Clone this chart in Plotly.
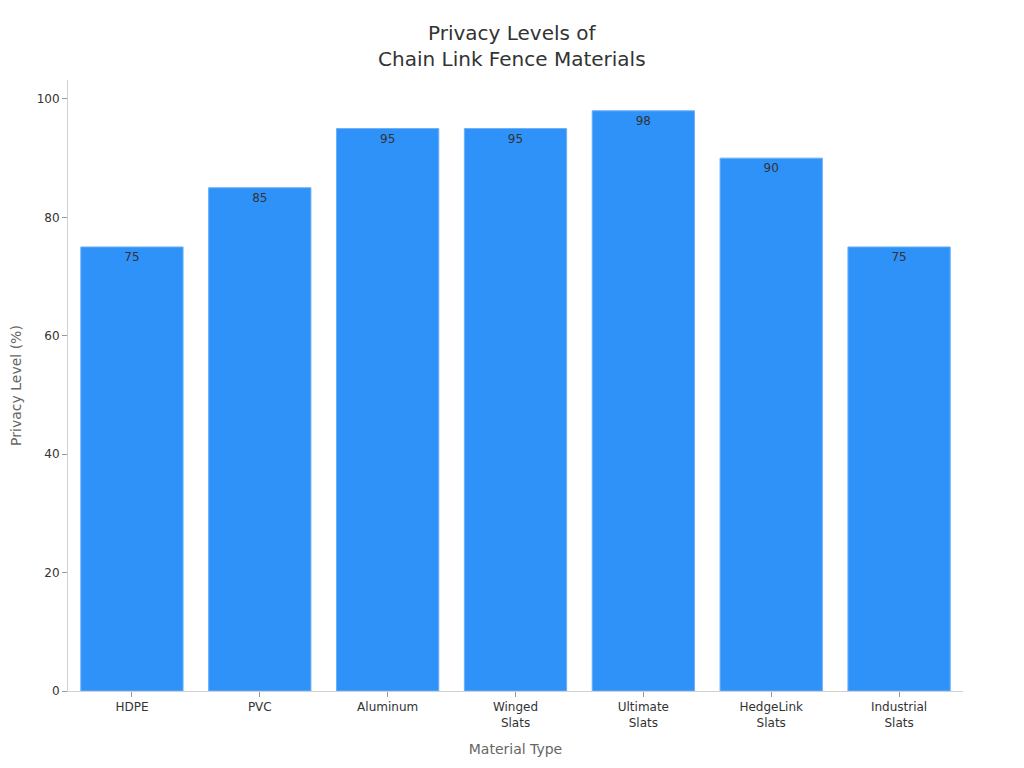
import plotly.graph_objects as go

categories = ["HDPE", "PVC", "Aluminum", "Winged<br>Slats", "Ultimate<br>Slats", "HedgeLink<br>Slats", "Industrial<br>Slats"]
privacy = [75, 85, 95, 95, 98, 90, 75]
y_ticks = [0, 20, 40, 60, 80, 100]

fig = go.Figure(go.Bar(
    x=categories, y=privacy,
    text=[str(v) for v in privacy], textposition="inside", insidetextanchor="end",
    textfont=dict(color="#333333", size=12, family="DejaVu Sans"),
    marker=dict(color="#2f92f8", line=dict(color="#6ab0fa", width=1)),
))

fig.update_layout(
    width=1024, height=768,
    margin=dict(l=60, r=69, t=72, b=85, autoexpand=False),
    paper_bgcolor="white", plot_bgcolor="white",
    font=dict(family="DejaVu Sans", color="#333333", size=12),
    title=dict(text="Privacy Levels of<br>Chain Link Fence Materials", x=0.492, xanchor="center",
               y=0.958, yanchor="top", font=dict(size=20, color="#333333")),
    bargap=0.2,
    showlegend=False,
)
fig.update_xaxes(
    title=dict(text="Material Type", font=dict(size=14, color="#666666")),
    showline=True, linecolor="#d0d0d0", ticks="outside", tickcolor="#999999", ticklen=5,
    showgrid=False, automargin=False,
)
fig.update_yaxes(
    title=dict(text="Privacy Level (%)", font=dict(size=14, color="#666666")),
    range=[0, 103.2], tickvals=y_ticks,
    showline=True, linecolor="#d0d0d0", ticks="outside", tickcolor="#999999", ticklen=5,
    showgrid=False, zeroline=False, automargin=False,
)

fig.write_html("out.html")
